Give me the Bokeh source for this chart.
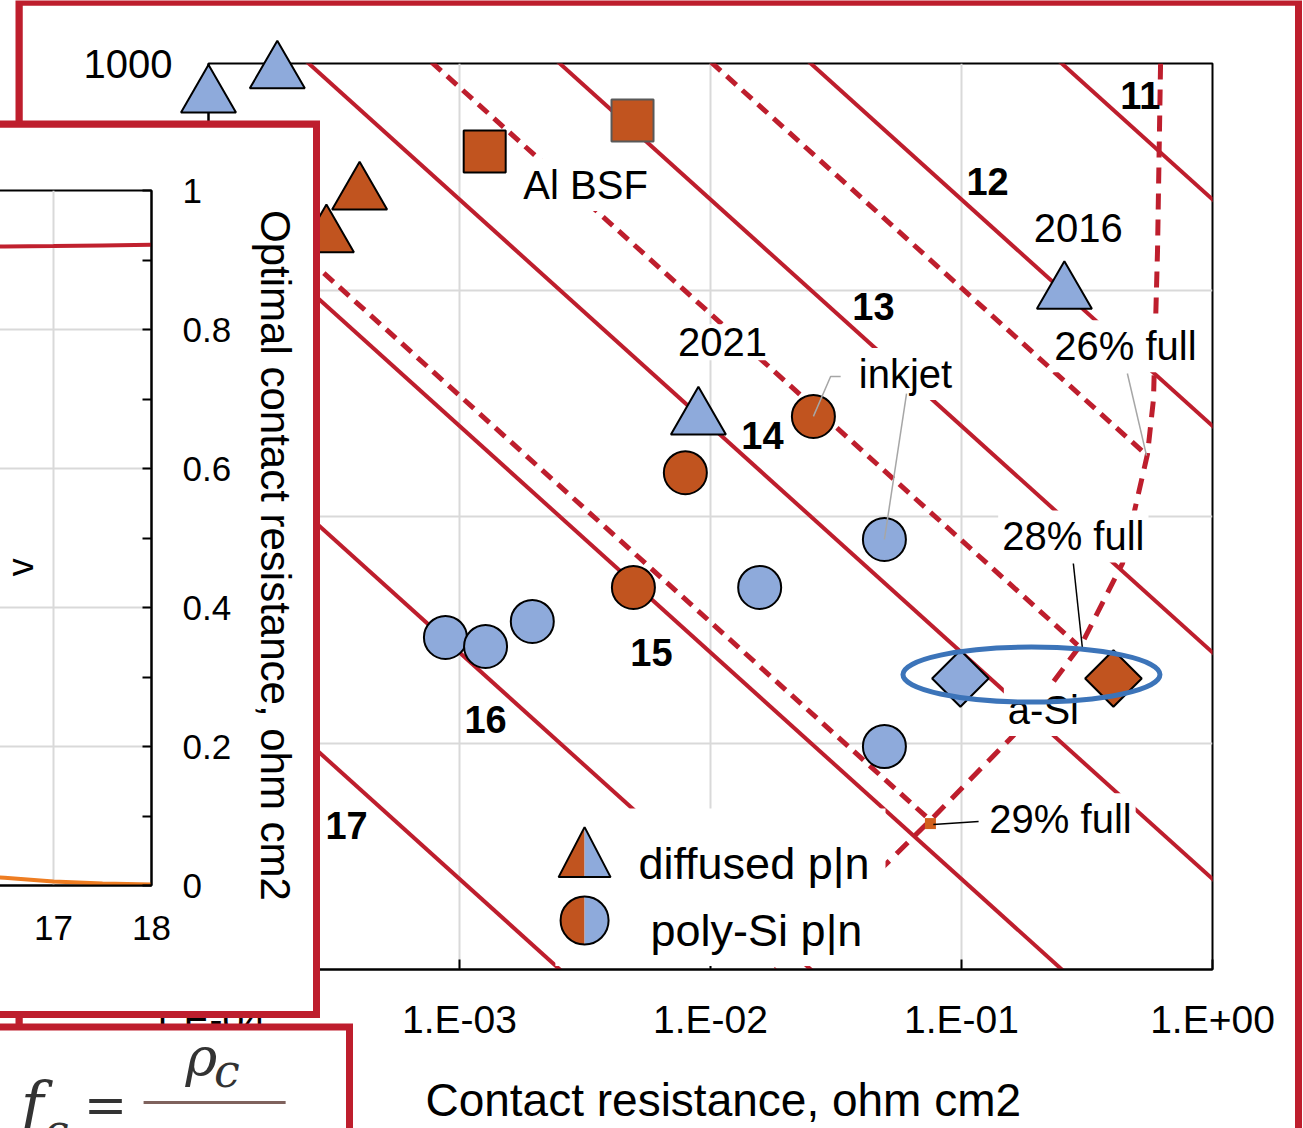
import math
from bokeh.plotting import figure
from bokeh.models import Range1d, FixedTicker, CustomJSTickFormatter, Label, BoxAnnotation, LogScale
from bokeh.embed import file_html
from bokeh.resources import INLINE

RED = "#be1e2d"
ORANGE = "#c1541f"
BLUE = "#8eaadb"
ELLIPSE_BLUE = "#3c74b9"
GRID = "#d9d9d9"
LEADER_GRAY = "#a6a6a6"
SANS = "Liberation Sans"

# ---------------- main chart data ----------------
x_ticks = [1e-4, 1e-3, 1e-2, 1e-1, 1.0]
y_ticks = [0.1, 1.0, 10.0, 100.0, 1000.0]

# efficiency contours: rho_c * J0 = const
contour_products = [251.0, 25.1, 2.51, 0.251, 0.0251, 0.00251, 0.000251]
contour_labels = ["11", "12", "13", "14", "15", "16", "17"]
contour_label_x = [0.516, 0.127, 0.0446, 0.0161, 0.00582, 0.00127, 0.000355]
contour_label_y = [723.0, 300.0, 84.5, 22.7, 2.52, 1.27, 0.434]

# dashed iso-lines ending on the optimum curve
iso_products = [10.2, 0.785, 0.0342]
iso_end_x = [0.551, 0.29, 0.0752]

# dashed optimum curve
optimum_x = [0.621, 0.604, 0.582, 0.551, 0.438, 0.303, 0.161, 0.0752, 0.0521, 0.0182]
optimum_y = [1000.0, 150.7, 33.0, 18.9, 6.21, 2.77, 1.08, 0.456, 0.305, 0.1]

diffused_n_x = [1.0e-4, 1.88e-4, 8.95e-3, 0.257]
diffused_n_y = [716.0, 913.0, 27.5, 98.0]
diffused_p_x = [4.0e-4, 2.95e-4]
diffused_p_y = [268.0, 174.0]
poly_n_x = [8.79e-4, 1.27e-3, 1.95e-3, 0.0157, 0.0493, 0.0493]
poly_n_y = [3.0, 2.74, 3.53, 4.98, 8.09, 0.995]
poly_p_x = [0.0257, 7.94e-3, 4.93e-3]
poly_p_y = [28.1, 15.9, 4.98]
al_bsf_x = [1.26e-3, 4.89e-3]
al_bsf_y = [410.0, 561.0]
asi_n_x = [0.099]
asi_n_y = [1.98]
asi_p_x = [0.403]
asi_p_y = [1.98]
full29_x = [0.0752]
full29_y = [0.456]

note_text = ["Al BSF", "2021", "2016", "inkjet", "26% full", "28% full", "a-Si", "29% full"]
note_x = [3.18e-3, 0.01117, 0.292, 0.0598, 0.450, 0.279, 0.212, 0.248]
note_y = [291.0, 58.8, 188.0, 42.6, 56.5, 8.17, 1.40, 0.461]

gray_leader_x = [[0.0330, 0.0301, 0.0257], [0.0604, 0.0493], [0.458, 0.546]]
gray_leader_y = [[42.1, 42.1, 28.1], [35.4, 8.09], [43.4, 18.9]]
black_leader_x = [[0.279, 0.303], [0.117, 0.0772]]
black_leader_y = [[6.34, 2.71], [0.466, 0.452]]

asi_ellipse_x = [0.190]
asi_ellipse_y = [2.06]

legend_box_x = [2.41e-3, 0.0498]
legend_box_y = [0.108, 0.531]
legend_marker_x = [3.15e-3, 3.15e-3]
legend_marker_y = [0.314, 0.171]
legend_text = ["diffused p|n", "poly-Si p|n"]
legend_text_x = [5.16e-3, 5.77e-3]
legend_text_y = [0.305, 0.155]

# ---------------- inset data ----------------
inset_x = [16.3, 16.5, 17.0, 17.5, 18.0]
inset_red = [0.919, 0.9195, 0.920, 0.921, 0.922]
inset_orange = [0.0125, 0.0112, 0.0058, 0.0030, 0.0014]
inset_y_major = [0.0, 0.2, 0.4, 0.6, 0.8, 1.0]
inset_y_minor = [0.1, 0.3, 0.5, 0.7, 0.9]
inset_x_ticks = [16, 17, 18]


def place(fig, left, top):
    fig.styles = {"position": "absolute", "left": f"{left}px", "top": f"{top}px"}


def solid_panel(left, top, w, h, color):
    f = figure(width=w, height=h, x_range=Range1d(0, 1), y_range=Range1d(0, 1),
               x_axis_location=None, y_axis_location=None, min_border=0,
               toolbar_location=None, output_backend="svg",
               background_fill_color=color, border_fill_color=color, outline_line_color=None)
    f.grid.visible = False
    place(f, left, top)
    return f


# ---------------- main figure ----------------
MAIN_L, MAIN_T, MAIN_W, MAIN_H = 22, 5, 1273, 1123
MB_L, MB_R, MB_T, MB_B = 186, 83, 58, 155
FRAME_W = MAIN_W - MB_L - MB_R
FRAME_H = MAIN_H - MB_T - MB_B
X0, X1 = x_ticks[0], x_ticks[-1]
Y0, Y1 = y_ticks[0], y_ticks[-1]

main_bg = solid_panel(15, 0, 1287, 1128, RED)

main = figure(width=MAIN_W, height=MAIN_H, x_axis_type="log", y_axis_type="log",
              x_range=Range1d(X0, X1), y_range=Range1d(Y0, Y1),
              toolbar_location=None, output_backend="svg",
              min_border_left=MB_L, min_border_right=MB_R, min_border_top=MB_T, min_border_bottom=MB_B,
              background_fill_color="white", border_fill_color="white",
              outline_line_color="black", outline_line_width=2)
place(main, MAIN_L, MAIN_T)

xa = main.xaxis[0]
xa.ticker = FixedTicker(ticks=x_ticks, minor_ticks=[])
xa.formatter = CustomJSTickFormatter(code="""
const e = Math.round(Math.log10(tick));
const a = Math.abs(e);
return "1.E" + (e < 0 ? "-" : "+") + (a < 10 ? "0" : "") + a;
""")
xa.major_tick_in = 10
xa.major_tick_out = 0
xa.minor_tick_in = 0
xa.minor_tick_out = 0
xa.major_tick_line_width = 2
xa.axis_line_width = 2
xa.major_label_text_font = SANS
xa.major_label_text_font_size = "39px"
xa.major_label_text_color = "black"
xa.major_label_standoff = 28
xa.axis_label = "\u00a0\u00a0Contact resistance, ohm cm2"
xa.axis_label_text_font = SANS
xa.axis_label_text_font_size = "46px"
xa.axis_label_text_font_style = "normal"
xa.axis_label_text_color = "black"
xa.axis_label_standoff = 30

ya = main.yaxis[0]
ya.ticker = FixedTicker(ticks=y_ticks, minor_ticks=[])
ya.formatter = CustomJSTickFormatter(code="return String(tick);")
ya.major_tick_in = 0
ya.major_tick_out = 0
ya.minor_tick_in = 0
ya.minor_tick_out = 0
ya.axis_line_width = 2
ya.major_label_text_font = SANS
ya.major_label_text_font_size = "40px"
ya.major_label_text_color = "black"
ya.major_label_standoff = 36

main.xgrid.grid_line_color = GRID
main.xgrid.grid_line_width = 2
main.ygrid.grid_line_color = GRID
main.ygrid.grid_line_width = 2

line_ends = [X0 / 10, X1 * 10]
for P in contour_products:
    main.line(line_ends, [P / x for x in line_ends], line_color=RED, line_width=4)

for P, xe in zip(iso_products, iso_end_x):
    xs = [P / 1e4, xe]
    main.line(xs, [P / x for x in xs], line_color=RED, line_width=5, line_dash="13 8")

main.line(optimum_x, optimum_y, line_color=RED, line_width=5, line_dash="16 10")

for t, x, y in zip(note_text, note_x, note_y):
    main.add_layout(Label(x=x, y=y, text=t, text_font=SANS, text_font_size="40px",
                          text_color="black", text_align="center", text_baseline="middle",
                          background_fill_color="white", padding=4))

for t, x, y in zip(contour_labels, contour_label_x, contour_label_y):
    main.add_layout(Label(x=x, y=y, text=t, text_font=SANS, text_font_size="38px",
                          text_font_style="bold", text_color="black",
                          text_align="center", text_baseline="middle"))

# ---------------- overlay for markers (not clipped by the frame) ----------------
dec_x = FRAME_W / math.log10(X1 / X0)
dec_y = FRAME_H / math.log10(Y1 / Y0)
ox0 = X0 * 10 ** (-MB_L / dec_x)
ox1 = X1 * 10 ** (MB_R / dec_x)
oy0 = Y0 * 10 ** (-MB_B / dec_y)
oy1 = Y1 * 10 ** (MB_T / dec_y)

ov = figure(width=MAIN_W, height=MAIN_H, x_axis_type="log", y_axis_type="log",
            x_range=Range1d(ox0, ox1), y_range=Range1d(oy0, oy1),
            x_axis_location=None, y_axis_location=None, min_border=0,
            toolbar_location=None, output_backend="svg",
            background_fill_color=None, border_fill_color=None, outline_line_color=None)
ov.x_scale = LogScale()
ov.y_scale = LogScale()
ov.grid.visible = False
ov.xgrid.visible = False
ov.ygrid.visible = False
place(ov, MAIN_L, MAIN_T)

ov.scatter(diffused_p_x, diffused_p_y, marker="triangle", size=55,
           fill_color=ORANGE, line_color="black", line_width=2)
ov.scatter(diffused_n_x, diffused_n_y, marker="triangle", size=55,
           fill_color=BLUE, line_color="black", line_width=2)
ov.scatter(al_bsf_x[:1], al_bsf_y[:1], marker="square", size=42,
           fill_color=ORANGE, line_color="black", line_width=2)
ov.scatter(al_bsf_x[1:], al_bsf_y[1:], marker="square", size=42,
           fill_color=ORANGE, line_color="#595959", line_width=2)
ov.scatter(poly_p_x, poly_p_y, marker="circle", size=43,
           fill_color=ORANGE, line_color="black", line_width=2)
ov.scatter(poly_n_x, poly_n_y, marker="circle", size=43,
           fill_color=BLUE, line_color="black", line_width=2)
ov.scatter(asi_n_x, asi_n_y, marker="square", angle=math.pi / 4, size=40,
           fill_color=BLUE, line_color="black", line_width=2)
ov.scatter(asi_p_x, asi_p_y, marker="square", angle=math.pi / 4, size=40,
           fill_color=ORANGE, line_color="black", line_width=2)
ov.scatter(full29_x, full29_y, marker="square", size=11, fill_color="#d2601c", line_color=None)

for xs, ys in zip(gray_leader_x, gray_leader_y):
    ov.line(xs, ys, line_color=LEADER_GRAY, line_width=1.5)
for xs, ys in zip(black_leader_x, black_leader_y):
    ov.line(xs, ys, line_color="black", line_width=1.5)

ov.ellipse(asi_ellipse_x, asi_ellipse_y, width=257, height=55,
           width_units="screen", height_units="screen",
           fill_color=None, line_color=ELLIPSE_BLUE, line_width=5)

# legend
ov.add_layout(BoxAnnotation(left=legend_box_x[0], right=legend_box_x[1],
                            bottom=legend_box_y[0], top=legend_box_y[1],
                            fill_color="white", fill_alpha=1.0, line_color=None))


def shift(x, y, dx, dy):
    return x * 10 ** (dx / dec_x), y * 10 ** (-dy / dec_y)


tx, ty = legend_marker_x[0], legend_marker_y[0]
half_w, tri_h = 26.0, 50.0
apex = shift(tx, ty, 0, -2 * tri_h / 3)
bl = shift(tx, ty, -half_w, tri_h / 3)
bm = shift(tx, ty, 0, tri_h / 3)
br = shift(tx, ty, half_w, tri_h / 3)
ov.patch([apex[0], bl[0], bm[0]], [apex[1], bl[1], bm[1]], fill_color=ORANGE, line_color=None, level="overlay")
ov.patch([apex[0], bm[0], br[0]], [apex[1], bm[1], br[1]], fill_color=BLUE, line_color=None, level="overlay")
ov.patch([apex[0], bl[0], br[0]], [apex[1], bl[1], br[1]], fill_color=None, line_color="black",
         line_width=2, level="overlay")

cx, cy = legend_marker_x[1], legend_marker_y[1]
ov.wedge([cx], [cy], radius=24, radius_units="screen", start_angle=math.pi / 2, end_angle=3 * math.pi / 2,
         fill_color=ORANGE, line_color=None, level="overlay")
ov.wedge([cx], [cy], radius=24, radius_units="screen", start_angle=-math.pi / 2, end_angle=math.pi / 2,
         fill_color=BLUE, line_color=None, level="overlay")
ov.scatter([cx], [cy], marker="circle", size=48, fill_color=None, line_color="black", line_width=2,
           level="overlay")

for t, x, y in zip(legend_text, legend_text_x, legend_text_y):
    ov.add_layout(Label(x=x, y=y, text=t, text_font=SANS, text_font_size="45px",
                        text_color="black", text_align="left", text_baseline="middle"))

# ---------------- inset panel ----------------
inset_bg = solid_panel(-10, 120, 330, 898, RED)

inset = figure(width=323, height=884, x_range=Range1d(16.357, 18), y_range=Range1d(0, 1),
               y_axis_location="right", toolbar_location=None, output_backend="svg",
               min_border_left=0, min_border_right=162, min_border_top=63, min_border_bottom=126,
               background_fill_color="white", border_fill_color="white",
               outline_line_color="black", outline_line_width=2)
place(inset, -10, 127)

ia = inset.xaxis[0]
ia.ticker = FixedTicker(ticks=inset_x_ticks, minor_ticks=[])
ia.major_tick_in = 0
ia.major_tick_out = 0
ia.minor_tick_in = 0
ia.minor_tick_out = 0
ia.axis_line_width = 2
ia.major_label_text_font = SANS
ia.major_label_text_font_size = "35px"
ia.major_label_text_color = "black"
ia.major_label_standoff = 30

iy = inset.yaxis[0]
iy.ticker = FixedTicker(ticks=inset_y_major, minor_ticks=inset_y_minor)
iy.formatter = CustomJSTickFormatter(code="return String(Math.round(tick * 10) / 10);")
iy.major_tick_in = 9
iy.major_tick_out = 0
iy.minor_tick_in = 9
iy.minor_tick_out = 0
iy.major_tick_line_width = 2
iy.minor_tick_line_width = 2
iy.minor_tick_line_color = "black"
iy.axis_line_width = 2
iy.major_label_text_font = SANS
iy.major_label_text_font_size = "35px"
iy.major_label_text_color = "black"
iy.major_label_standoff = 31
iy.axis_label = "\u00a0\u00a0\u00a0Optimal contact resistance, ohm cm2"
iy.axis_label_text_font = SANS
iy.axis_label_text_font_size = "42px"
iy.axis_label_text_font_style = "normal"
iy.axis_label_text_color = "black"
iy.axis_label_standoff = 18

inset.xgrid.grid_line_color = GRID
inset.xgrid.grid_line_width = 2
inset.ygrid.grid_line_color = GRID
inset.ygrid.grid_line_width = 2

inset.line(inset_x, inset_red, line_color="#c0202e", line_width=4)
inset.line(inset_x, inset_orange, line_color="#ee7d22", line_width=4)
inset.add_layout(Label(x=16.66, y=0.458, text="v", angle=math.pi / 2, text_font=SANS,
                       text_font_size="36px", text_color="black",
                       text_align="center", text_baseline="middle"))

# ---------------- formula panel ----------------
form_bg = solid_panel(-10, 1023, 363, 105, RED)

form = figure(width=356, height=98, x_range=Range1d(0, 1), y_range=Range1d(0, 1),
              x_axis_location=None, y_axis_location=None, min_border=0,
              toolbar_location=None, output_backend="svg",
              background_fill_color="white", border_fill_color="white", outline_line_color=None)
form.grid.visible = False
place(form, -10, 1030)

formula_text = ["f", "c", "=", "\u03c1", "c"]
formula_x = [0.085, 0.150, 0.262, 0.548, 0.628]
formula_y = [0.25, -0.02, 0.235, 0.72, 0.59]
formula_size = ["62px", "44px", "52px", "54px", "46px"]
for t, x, y, s in zip(formula_text, formula_x, formula_y, formula_size):
    form.add_layout(Label(x=x, y=y, text=t, text_font="DejaVu Serif", text_font_style="italic",
                          text_font_size=s, text_color="#333333",
                          text_align="left", text_baseline="alphabetic"))
fraction_bar_x = [0.430, 0.829]
fraction_bar_y = [0.265, 0.265]
form.line(fraction_bar_x, fraction_bar_y, line_color="#7f625d", line_width=3)

roots = [main_bg, main, ov, inset_bg, inset, form_bg, form]
open("out.html", "w").write(file_html(roots, INLINE, title="contact resistance"))
